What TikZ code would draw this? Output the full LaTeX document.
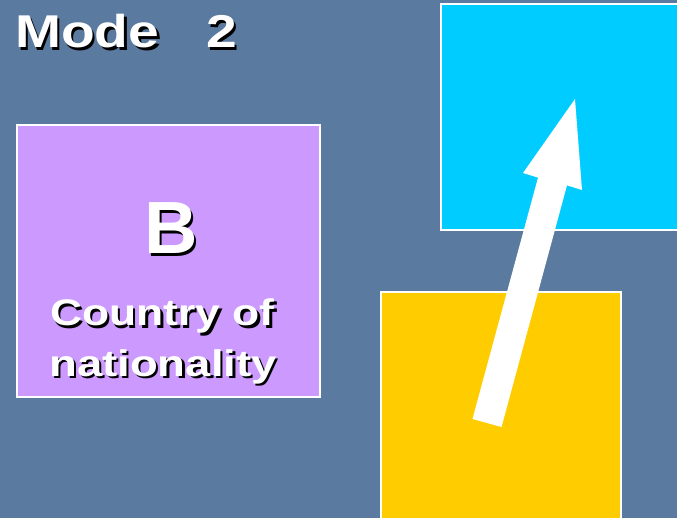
\documentclass[tikz,border=0pt]{standalone}
\usepackage{fontspec}
\setmainfont{Liberation Sans}
\definecolor{bgblue}{RGB}{91,122,160}
\definecolor{lilac}{RGB}{204,153,255}
\definecolor{skycyan}{RGB}{0,204,255}
\definecolor{gold}{RGB}{255,204,0}
\newcommand{\shadowed}[1]{\rlap{\hspace{2.5pt}\raisebox{-2.5pt}{\textcolor{black}{#1}}}\textcolor{white}{#1}}
\begin{document}
\begin{tikzpicture}[x=1pt,y=-1pt,
  panel/.style={draw=white,line width=2pt},
  label/.style={anchor=base west,inner sep=0pt,font=\bfseries},
  arrowshape/.style={fill=white,draw=none}]
\useasboundingbox (0,0) rectangle (677,518);
\fill[bgblue] (0,0) rectangle (677,518);
% boxes
\filldraw[panel,fill=lilac] (17,125) rectangle (320,397);
\filldraw[panel,fill=skycyan] (441,4) rectangle (690,230);
\filldraw[panel,fill=gold] (381,292) rectangle (621,530);
% texts
\node[label] (mode) at (15,48) {\fontsize{46}{46}\selectfont\shadowed{\scalebox{1.2}[1]{Mode}}};
\node[label] (two) at (206,48) {\fontsize{46}{46}\selectfont\shadowed{\scalebox{1.2}[1]{2}}};
\node[label] (bee) at (144,254) {\fontsize{74}{74}\selectfont\shadowed{B}};
\node[label] (country) at (50,326) {\fontsize{37}{37}\selectfont\shadowed{\scalebox{1.2}[1]{Country of}}};
\node[label] (nation) at (49,376) {\fontsize{37}{37}\selectfont\shadowed{\scalebox{1.23}[1]{nationality}}};
% arrow
\coordinate (tail) at (487,423);
\coordinate (tip) at (575,99);
\fill[arrowshape] (472.5,419) -- (538,177.6) -- (523,173) -- (tip) -- (582,190) -- (567,185.4) -- (501.5,427) -- cycle;
\end{tikzpicture}
\end{document}
